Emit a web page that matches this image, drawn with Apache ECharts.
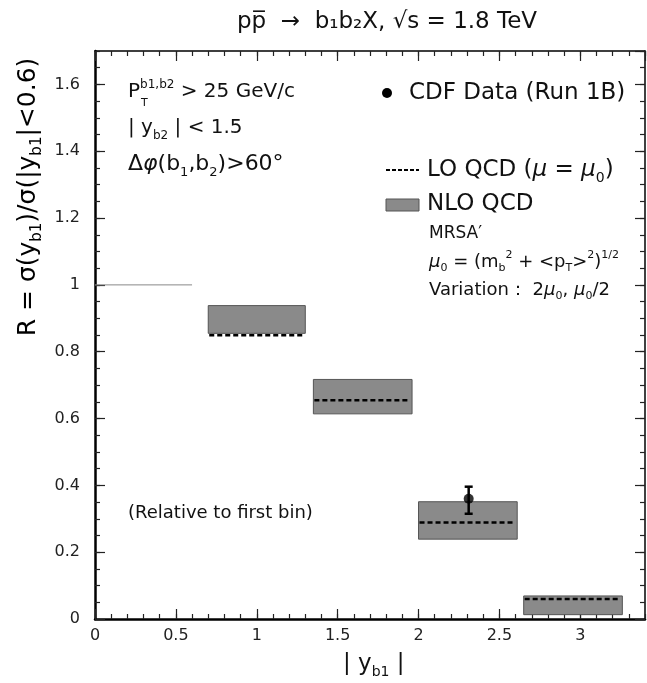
<!DOCTYPE html>
<html>
<head>
<meta charset="utf-8">
<script src="https://cdn.jsdelivr.net/npm/echarts@6/dist/echarts.min.js"></script>
<style>html,body{margin:0;padding:0;background:#fff}#c{width:647px;height:683px}</style>
</head>
<body>
<div id="c"></div>
<script>
// ---- data ----
var binLow  = [0.70, 1.35, 2.00, 2.65];
var binHigh = [1.30, 1.96, 2.61, 3.26];
var nloLow  = [0.855, 0.614, 0.239, 0.013];
var nloHigh = [0.938, 0.717, 0.351, 0.069];
var loValue = [0.849, 0.655, 0.289, 0.060];
var cdfX = [2.31];
var cdfY = [0.36];
var cdfErrLow = [0.315];
var cdfErrHigh = [0.396];
var refLineX = [0, 0.6];
var refLineY = [1, 1];
var xTickLabels = ['0', '0.5', '1', '1.5', '2', '2.5', '3'];
var xTickValues = [0, 0.5, 1, 1.5, 2, 2.5, 3];
var yTickLabels = ['0', '0.2', '0.4', '0.6', '0.8', '1', '1.2', '1.4', '1.6'];
var yTickValues = [0, 0.2, 0.4, 0.6, 0.8, 1, 1.2, 1.4, 1.6];

var FONT = 'DejaVu Sans';
var chart = echarts.init(document.getElementById('c'), null, {renderer: 'canvas'});

function lookup(vals, labels) {
  return function (v) {
    for (var i = 0; i < vals.length; i++) if (Math.abs(vals[i] - v) < 1e-6) return labels[i];
    return '';
  };
}

function mkX(pos, interval, len, labels, line) {
  return {
    type: 'value', min: 0, max: 3.4, interval: interval, position: pos,
    axisLine: {show: line, onZero: false, lineStyle: {color: '#000', width: pos === 'bottom' ? 2.5 : 1.5}},
    axisTick: {show: true, inside: true, length: len, lineStyle: {color: '#222', width: 1.2}},
    axisLabel: {show: labels, showMaxLabel: false, margin: 9, fontFamily: FONT, fontSize: 16, color: '#222',
      formatter: lookup(xTickValues, xTickLabels)},
    splitLine: {show: false}
  };
}
function mkY(pos, interval, len, labels, line) {
  return {
    type: 'value', min: 0, max: 1.7, interval: interval, position: pos,
    axisLine: {show: line, onZero: false, lineStyle: {color: '#000', width: pos === 'left' ? 2.5 : 1.5}},
    axisTick: {show: true, inside: true, length: len, lineStyle: {color: '#222', width: 1.2}},
    axisLabel: {show: labels, showMaxLabel: false, margin: 15, fontFamily: FONT, fontSize: 16, color: '#222',
      formatter: lookup(yTickValues, yTickLabels)},
    splitLine: {show: false}
  };
}

var boxData = binLow.map(function (b, i) { return [binLow[i], binHigh[i], nloLow[i], nloHigh[i]]; });
var loData = binLow.map(function (b, i) { return [binLow[i], binHigh[i], loValue[i]]; });
var errData = cdfX.map(function (x, i) { return [cdfX[i], cdfErrLow[i], cdfErrHigh[i]]; });

function richSet(size) {
  var s = size || 19;
  return {
    n: {fontFamily: FONT, fontSize: s, color: '#111', lineHeight: Math.round(s * 1.35), verticalAlign: 'middle'},
    i: {fontFamily: FONT, fontStyle: 'italic', fontSize: s, color: '#111', lineHeight: Math.round(s * 1.35), verticalAlign: 'middle'},
    sub: {fontFamily: FONT, fontSize: Math.round(s * 0.6), color: '#111', lineHeight: Math.round(s * 0.6), verticalAlign: 'bottom'},
    sup: {fontFamily: FONT, fontSize: Math.round(s * 0.6), color: '#111', lineHeight: Math.round(s * 0.6), verticalAlign: 'top'}
  };
}
function txt(x, y, text, size) {
  return {type: 'text', x: x, y: y, z: 10,
    style: {text: text, rich: richSet(size), fontFamily: FONT, fontSize: size || 19, fill: '#111',
      align: 'left', verticalAlign: 'middle'}};
}

var option = {
  animation: false,
  backgroundColor: '#fff',
  grid: {left: 95, right: 2, top: 51, bottom: 64},
  xAxis: [mkX('bottom', 0.1, 5, false, true), mkX('bottom', 0.5, 10, true, false),
          mkX('top', 0.1, 5, false, true), mkX('top', 0.5, 10, false, false)],
  yAxis: [mkY('left', 0.05, 5, false, true), mkY('left', 0.2, 10, true, false),
          mkY('right', 0.05, 5, false, true), mkY('right', 0.2, 10, false, false)],
  series: [
    {
      type: 'line', xAxisIndex: 0, yAxisIndex: 0, symbol: 'none',
      data: refLineX.map(function (x, i) { return [refLineX[i], refLineY[i]]; }),
      lineStyle: {color: '#888', width: 1}
    },
    {
      type: 'custom', xAxisIndex: 0, yAxisIndex: 0, data: boxData,
      renderItem: function (params, api) {
        var p1 = api.coord([api.value(0), api.value(3)]);
        var p2 = api.coord([api.value(1), api.value(2)]);
        return {type: 'rect', shape: {x: p1[0], y: p1[1], width: p2[0] - p1[0], height: p2[1] - p1[1]},
          style: {fill: '#8a8a8a', stroke: '#555', lineWidth: 1}};
      }
    },
    {
      type: 'custom', xAxisIndex: 0, yAxisIndex: 0, data: loData, z: 3,
      renderItem: function (params, api) {
        var p1 = api.coord([api.value(0), api.value(2)]);
        var p2 = api.coord([api.value(1), api.value(2)]);
        return {type: 'line', shape: {x1: p1[0] + 1, y1: p1[1], x2: p2[0] - 3, y2: p2[1]},
          style: {stroke: '#000', lineWidth: 2.5, lineDash: [5, 3]}};
      }
    },
    {
      type: 'custom', xAxisIndex: 0, yAxisIndex: 0, data: errData, z: 4,
      renderItem: function (params, api) {
        var lo = api.coord([api.value(0), api.value(1)]);
        var hi = api.coord([api.value(0), api.value(2)]);
        var w = 4;
        return {type: 'group', children: [
          {type: 'line', shape: {x1: lo[0], y1: lo[1], x2: hi[0], y2: hi[1]}, style: {stroke: '#000', lineWidth: 2.5}},
          {type: 'line', shape: {x1: lo[0] - w, y1: lo[1], x2: lo[0] + w, y2: lo[1]}, style: {stroke: '#000', lineWidth: 2.5}},
          {type: 'line', shape: {x1: hi[0] - w, y1: hi[1], x2: hi[0] + w, y2: hi[1]}, style: {stroke: '#000', lineWidth: 2.5}}
        ]};
      }
    },
    {
      type: 'scatter', xAxisIndex: 0, yAxisIndex: 0, z: 5, symbol: 'circle', symbolSize: 10,
      data: cdfX.map(function (x, i) { return [cdfX[i], cdfY[i]]; }),
      itemStyle: {color: '#000'}
    }
  ],
  graphic: [
    // title
    {type: 'text', x: 387, y: 22, z: 10, style: {text: 'pp\u0305  \u2192  b\u2081b\u2082X, \u221As = 1.8 TeV',
      fontFamily: FONT, fontSize: 23, fill: '#111', align: 'center', verticalAlign: 'middle'}},
    // y axis name
    {type: 'text', x: 28, y: 197, rotation: Math.PI / 2, z: 10,
      style: {text: '{n|R = \u03C3(y}{sub|b1}{n|)/\u03C3(|y}{sub|b1}{n||<0.6)}', rich: richSet(25),
        align: 'center', verticalAlign: 'middle'}},
    // x axis name
    txt(343, 664, '{n|| y}{sub|b1}{n| |}', 23),
    // cuts
    txt(128, 92, '{n|P}{sup|b1,b2}{n| > 25 GeV/c}', 20),
    {type: 'text', x: 141, y: 103, z: 10, style: {text: 'T', fontFamily: FONT, fontSize: 11, fill: '#111', align: 'left', verticalAlign: 'middle'}},
    txt(128, 128, '{n|| y}{sub|b2}{n| | < 1.5}', 20),
    txt(128, 164, '{n|\u0394}{i|\u03C6}{n|(b}{sub|1}{n|,b}{sub|2}{n|)>60\u00B0}', 22),
    txt(128, 513, '{n|(Relative to first bin)}', 18),
    // legend
    {type: 'circle', z: 10, shape: {cx: 387, cy: 93, r: 5}, style: {fill: '#000'}},
    txt(409, 93, '{n|CDF Data (Run 1B)}', 23),
    {type: 'line', z: 10, shape: {x1: 386, y1: 170, x2: 419, y2: 170}, style: {stroke: '#000', lineWidth: 2, lineDash: [4, 2]}},
    txt(427, 170, '{n|LO QCD (}{i|\u03BC}{n| = }{i|\u03BC}{sub|0}{n|)}', 23),
    {type: 'rect', z: 10, shape: {x: 386, y: 199, width: 33, height: 12}, style: {fill: '#8a8a8a', stroke: '#555', lineWidth: 1}},
    txt(427, 204, '{n|NLO QCD}', 23),
    txt(429, 234, '{n|MRSA\u2032}', 17),
    txt(429, 262, '{i|\u03BC}{sub|0}{n| = (m}{sub|b}{sup|2}{n| + <p}{sub|T}{n|>}{sup|2}{n|)}{sup|1/2}', 18),
    txt(429, 290, '{n|Variation\uFF1A 2}{i|\u03BC}{sub|0}{n|, }{i|\u03BC}{sub|0}{n|/2}', 18)
  ]
};
chart.setOption(option);
</script>
</body>
</html>
